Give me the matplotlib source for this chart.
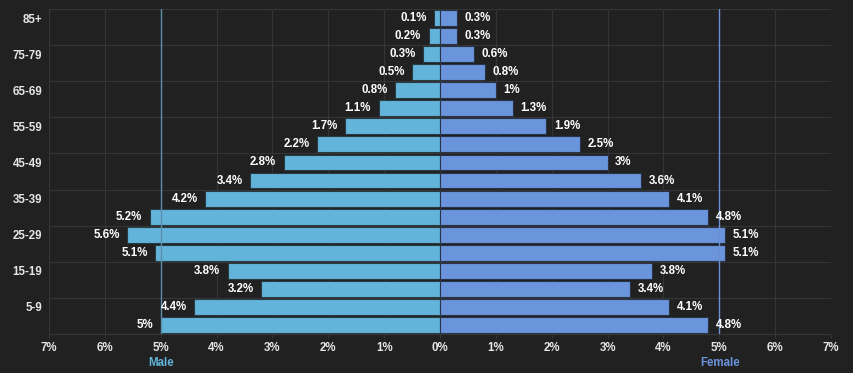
import matplotlib
matplotlib.use("Agg")
import matplotlib.pyplot as plt
import numpy as np

categories = ["0-4", "5-9", "10-14", "15-19", "20-24", "25-29", "30-34", "35-39",
              "40-44", "45-49", "50-54", "55-59", "60-64", "65-69", "70-74",
              "75-79", "80-84", "85+"]
male = [5, 4.4, 3.2, 3.8, 5.1, 5.6, 5.2, 4.2, 3.4, 2.8, 2.2, 1.7, 1.1, 0.8, 0.5, 0.3, 0.2, 0.1]
female = [4.8, 4.1, 3.4, 3.8, 5.1, 5.1, 4.8, 4.1, 3.6, 3, 2.5, 1.9, 1.3, 1, 0.8, 0.6, 0.3, 0.3]
x_ticks = [-7, -6, -5, -4, -3, -2, -1, 0, 1, 2, 3, 4, 5, 6, 7]

BG = "#212121"
MALE_C = "#63b4da"
FEMALE_C = "#6a94dc"
TEXT = "#e6e6e6"
GRID = "#353535"
FONT = "Liberation Sans"
FS = 8.3

def fmt(v):
    return f"{v:g}%"

fig = plt.figure(figsize=(8.54, 3.73), dpi=100, facecolor=BG)
W, H = 854, 373
ax = fig.add_axes([49 / W, (H - 334) / H, (831 - 49) / W, (334 - 9) / H], facecolor=BG)

y = np.arange(len(categories))
ax.set_xlim(-7, 7)
ax.set_ylim(-0.5, len(categories) - 0.5)

for xv in x_ticks:
    ax.axvline(xv, color=GRID, lw=0.8, zorder=0)
for yv in np.arange(-0.5, len(categories), 2):
    ax.axhline(yv, color=GRID, lw=0.8, zorder=0)

ax.barh(y, [-m for m in male], height=0.88, color=MALE_C, edgecolor="#2a3a44", lw=0.8, zorder=2)
ax.barh(y, female, height=0.88, color=FEMALE_C, edgecolor="#2a3346", lw=0.8, zorder=2)

ax.axvline(-5, color="#5a8fae", lw=1, zorder=3)
ax.axvline(5, color="#6d90d4", lw=1, zorder=3)

for yi, m, f in zip(y, male, female):
    ax.annotate(fmt(m), (-m, yi), xytext=(-5.5, 0), textcoords="offset points",
                ha="right", va="center", color="white", fontsize=FS,
                fontweight="bold", family=FONT, zorder=4)
    ax.annotate(fmt(f), (f, yi), xytext=(5.5, 0), textcoords="offset points",
                ha="left", va="center", color="white", fontsize=FS,
                fontweight="bold", family=FONT, zorder=4)

ax.set_xticks(x_ticks)
ax.set_xticklabels([fmt(abs(v)) for v in x_ticks], color=TEXT, fontsize=FS,
                   fontweight="bold", family=FONT)
ax.set_yticks(y[1::2])
ax.set_yticklabels(categories[1::2], color=TEXT, fontsize=FS, fontweight="bold", family=FONT)
ax.tick_params(axis="x", length=3, color=GRID, pad=3)
ax.tick_params(axis="y", length=0, pad=5)
for s in ["top", "right", "left"]:
    ax.spines[s].set_visible(False)
ax.spines["bottom"].set_color(GRID)

fig.text(161 / W, 1 - 363 / H, "Male", color=MALE_C, fontsize=FS, fontweight="bold",
         family=FONT, ha="center", va="center")
fig.text(720 / W, 1 - 363 / H, "Female", color=FEMALE_C, fontsize=FS, fontweight="bold",
         family=FONT, ha="center", va="center")

fig.savefig("out.png", dpi=100, facecolor=BG)
